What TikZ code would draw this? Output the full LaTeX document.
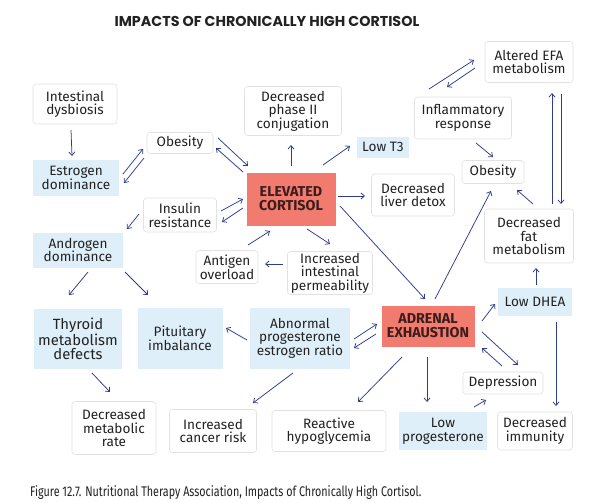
\documentclass[tikz,border=0pt]{standalone}
\usepackage{fontspec}
\setmainfont{Fira Sans}
\newfontfamily\titlefont{Poppins}
\newfontfamily\capfont{Fira Sans}[FakeStretch=0.77]
\usetikzlibrary{arrows.meta}
\definecolor{boxgray}{RGB}{226,226,226}
\definecolor{lblue}{RGB}{222,239,250}
\definecolor{salmon}{RGB}{240,123,110}
\definecolor{arrc}{RGB}{46,60,140}
\definecolor{txt}{RGB}{34,34,34}
\definecolor{redtxt}{RGB}{60,28,28}
\begin{document}
\begin{tikzpicture}[x=1pt,y=-1pt,
  sz/.style 2 args={minimum width=#1, minimum height=#2},
  base/.style={align=center, inner sep=0pt, text=txt, font=\fontsize{13.6}{13.6}\selectfont},
  wbox/.style={base, draw=boxgray, fill=white, rounded corners=3pt, line width=0.6pt},
  bbox/.style={base, fill=lblue},
  rbox/.style={base, fill=salmon, text=redtxt, font=\bfseries\fontsize{14.3}{14.2}\selectfont},
  arr/.style={draw=arrc, line width=0.75pt, -{Straight Barb[length=3.5pt,width=6pt]}}
]
\useasboundingbox (0,0) rectangle (594,503);
\fill[white] (0,0) rectangle (594,503);

\node[font=\titlefont\bfseries\fontsize{14.3}{16}\selectfont, text=txt] (title) at (267,21) {IMPACTS OF CHRONICALLY HIGH CORTISOL};

\node[wbox, sz={84pt}{40pt}] (idys) at (75,104) {Intestinal\\dysbiosis};
\node[bbox, sz={86pt}{36pt}] (est) at (76,178) {Estrogen\\dominance};
\node[wbox, sz={66pt}{21pt}] (ob1) at (180,143) {Obesity};
\node[wbox, sz={73pt}{34pt}] (ins) at (180,215) {Insulin\\resistance};
\node[bbox, sz={90pt}{35pt}] (andr) at (78,250) {Androgen\\dominance};
\node[wbox, sz={62pt}{33pt}] (ant) at (227,267) {Antigen\\overload};
\node[wbox, sz={97pt}{49pt}] (ph2) at (293,111) {Decreased\\phase II\\conjugation};
\node[rbox, sz={89pt}{53pt}] (cort) at (291,199) {ELEVATED\\CORTISOL};
\node[bbox, sz={52pt}{21pt}] (t3) at (383,147) {Low T3};
\node[wbox, sz={83pt}{42pt}] (liv) at (413,195) {Decreased\\liver detox};
\node[wbox, sz={85pt}{43pt}] (perm) at (330,273) {Increased\\intestinal\\permeability};
\node[wbox, sz={88pt}{41pt}] (efa) at (529,62) {Altered EFA\\metabolism};
\node[wbox, sz={97pt}{42pt}] (infl) at (463,118) {Inflammatory\\response};
\node[wbox, sz={62pt}{23pt}] (ob2) at (493,172) {Obesity};
\node[wbox, sz={89pt}{54pt}] (fat) at (529,236) {Decreased\\fat\\metabolism};
\node[bbox, sz={74pt}{28pt}] (dhea) at (535,302) {Low DHEA};
\node[rbox, sz={93pt}{41pt}] (adr) at (428,326) {ADRENAL\\EXHAUSTION};
\node[bbox, sz={100pt}{61pt}] (abn) at (300,338) {Abnormal\\progesterone\\estrogen ratio};
\node[bbox, sz={85pt}{61pt}] (pit) at (180,338) {Pituitary\\imbalance};
\node[bbox, sz={88pt}{60pt}, font=\fontsize{14.8}{14.2}\selectfont] (thy) at (78,339) {Thyroid\\metabolism\\defects};
\node[wbox, sz={84pt}{53pt}] (mrate) at (114,428) {Decreased\\metabolic\\rate};
\node[wbox, sz={87pt}{43pt}] (canc) at (213,431) {Increased\\cancer risk};
\node[wbox, sz={114pt}{41pt}] (hypo) at (329,431) {Reactive\\hypoglycemia};
\node[bbox, sz={88pt}{38pt}] (lprog) at (443,431) {Low\\progesterone};
\node[wbox, sz={80pt}{22pt}] (dep) at (503,383) {Depression};
\node[wbox, sz={75pt}{38pt}] (imm) at (535,431) {Decreased\\immunity};

\node[anchor=base west, inner sep=0pt, font=\capfont\fontsize{14}{16}\selectfont, text=txt] (cap) at (30,496) {Figure 12.7. Nutritional Therapy Association, Impacts of Chronically High Cortisol.};

\draw[arr] ([shift={(-4,26)}]idys.center) -- ([shift={(-4,-22)}]est.center);
\draw[arr] ([shift={(47,-4)}]est.center) -- ([shift={(-37,6)}]ob1.center);
\draw[arr] ([shift={(-36,15)}]ob1.center) -- ([shift={(48,5)}]est.center);
\draw[arr] ([shift={(38,-5)}]ob1.center) -- ([shift={(-43,-33)}]cort.center);
\draw[arr] ([shift={(-48,-27)}]cort.center) -- ([shift={(36,5)}]ob1.center);
\draw[arr] ([shift={(41,-4)}]ins.center) -- ([shift={(-48,0)}]cort.center);
\draw[arr] ([shift={(-48,9)}]cort.center) -- ([shift={(42,7)}]ins.center);
\draw[arr] ([shift={(-41,-1)}]ins.center) -- ([shift={(49,-21)}]andr.center);
\draw[arr] ([shift={(21,-22)}]ant.center) -- ([shift={(-21,32)}]cort.center);
\draw[arr] ([shift={(16,30)}]cort.center) -- ([shift={(0,-29)}]perm.center);
\draw[arr] ([shift={(-47,-9)}]perm.center) -- ([shift={(38,-3)}]ant.center);
\draw[arr] ([shift={(0,-33)}]cort.center) -- ([shift={(-2,34)}]ph2.center);
\draw[arr] ([shift={(32,-34)}]cort.center) -- ([shift={(-33,-1)}]t3.center);
\draw[arr] ([shift={(47,-3)}]cort.center) -- ([shift={(-48,1)}]liv.center);
\draw[arr] ([shift={(49,7)}]cort.center) -- ([shift={(-3,-27)}]adr.center);
\draw[arr] ([shift={(7,-27)}]adr.center) -- ([shift={(-2,19)}]ob2.center);
\draw[arr] ([shift={(13,25)}]infl.center) -- ([shift={(0,-15)}]ob2.center);
\draw[arr] ([shift={(-34,-29)}]infl.center) -- ([shift={(-55,-2)}]efa.center);
\draw[arr] ([shift={(-54,6)}]efa.center) -- ([shift={(-16,-31)}]infl.center);
\draw[arr] ([shift={(4,-32)}]fat.center) -- ([shift={(24,18)}]ob2.center);
\draw[arr] ([shift={(23,-32)}]fat.center) -- ([shift={(23,31)}]efa.center);
\draw[arr] ([shift={(32,32)}]efa.center) -- ([shift={(32,-32)}]fat.center);
\draw[arr] ([shift={(1,-17)}]dhea.center) -- ([shift={(7,32)}]fat.center);
\draw[arr] ([shift={(21,20)}]dhea.center) -- ([shift={(21,-25)}]imm.center);
\draw[arr] ([shift={(54,-5)}]adr.center) -- ([shift={(-40,2)}]dhea.center);
\draw[arr] ([shift={(54,6)}]adr.center) -- ([shift={(15,-18)}]dep.center);
\draw[arr] ([shift={(-1,-17)}]dep.center) -- ([shift={(54,22)}]adr.center);
\draw[arr] ([shift={(31,-24)}]lprog.center) -- ([shift={(-17,17)}]dep.center);
\draw[arr] ([shift={(-1,31)}]adr.center) -- ([shift={(-16,-29)}]lprog.center);
\draw[arr] ([shift={(-26,31)}]adr.center) -- ([shift={(29,-29)}]hypo.center);
\draw[arr] ([shift={(54,1)}]abn.center) -- ([shift={(-51,-2)}]adr.center);
\draw[arr] ([shift={(-52,8)}]adr.center) -- ([shift={(54,10)}]abn.center);
\draw[arr] ([shift={(-53,2)}]abn.center) -- ([shift={(46,-10)}]pit.center);
\draw[arr] ([shift={(-7,35)}]abn.center) -- ([shift={(40,-28)}]canc.center);
\draw[arr] ([shift={(10,22)}]andr.center) -- ([shift={(-9,-44)}]thy.center);
\draw[arr] ([shift={(47,22)}]andr.center) -- ([shift={(-32,-43)}]pit.center);
\draw[arr] ([shift={(14,34)}]thy.center) -- ([shift={(-4,-36)}]mrate.center);
\end{tikzpicture}
\end{document}
